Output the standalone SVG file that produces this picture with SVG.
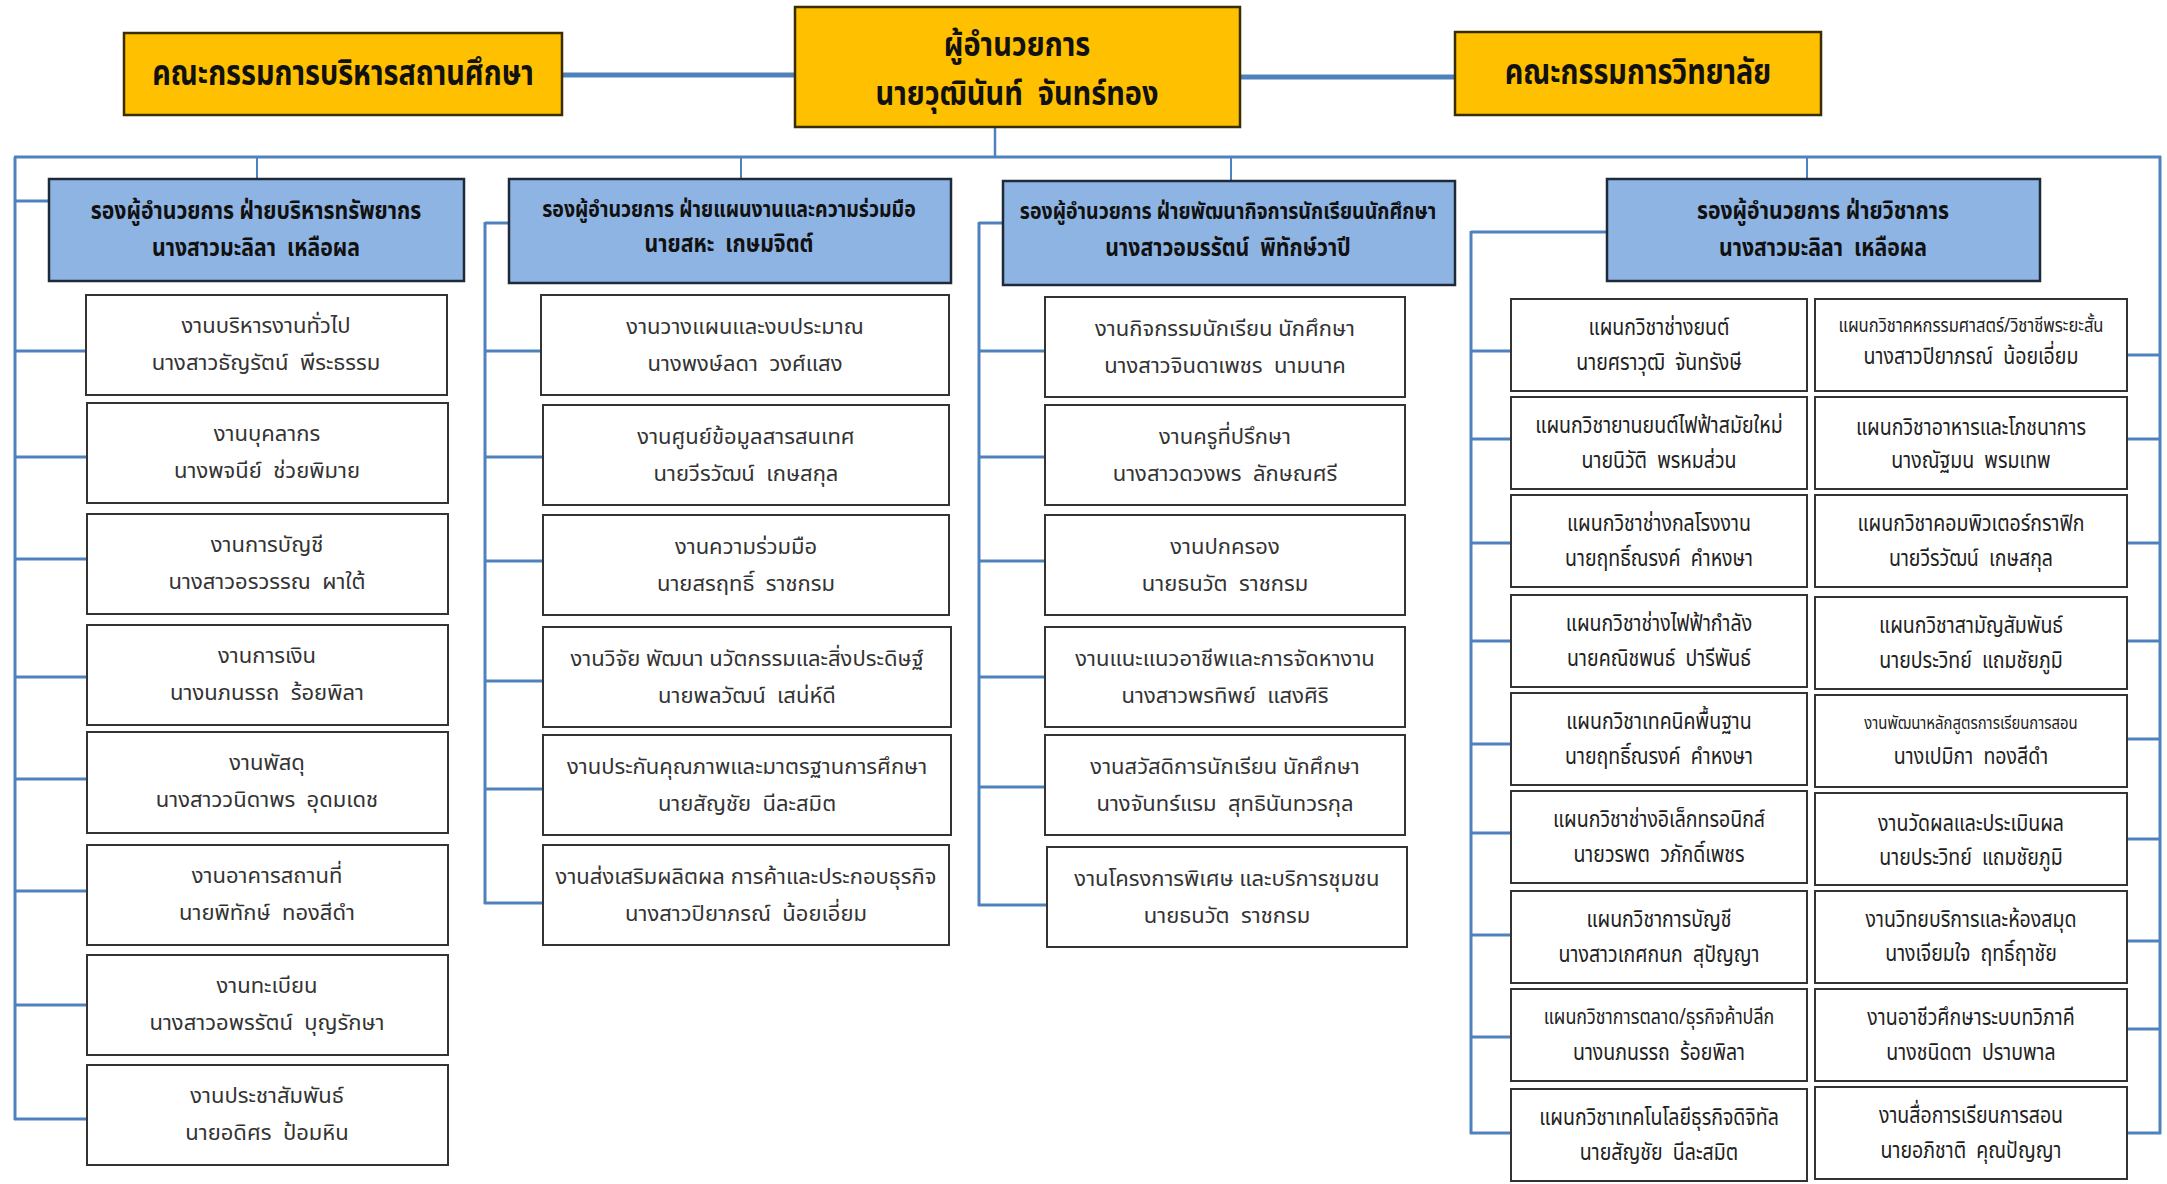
<svg xmlns="http://www.w3.org/2000/svg" width="2167" height="1184" viewBox="0 0 2167 1184">
<style>
text{font-family:"Noto Sans Thai","Noto Sans","DejaVu Sans",sans-serif;text-anchor:middle;white-space:pre}
.hdr rect{fill:#FFC000;stroke:#3a2d00;stroke-width:2.5}
.hdr text{font-size:36px;font-weight:bold;fill:#111}
.vp rect{fill:#8EB4E3;stroke:#1f2a38;stroke-width:2.5}
.vp text{font-size:25px;font-weight:bold;fill:#111}
.bx rect{fill:#fff;stroke:#333;stroke-width:2}
.bx text{font-size:22px;fill:#333}
.dp rect{fill:#fff;stroke:#333;stroke-width:2}
.dp text{font-size:23px;fill:#222}
.cond{transform-box:fill-box;transform-origin:center;transform:scaleX(0.8)}
.vp .cond,.dp .cond,#director .cond{transform:scaleX(0.85)}
#director text{font-size:34px}
#connectors line{stroke:#4F81BD;stroke-width:3;fill:none}
#connectors .thick{stroke-width:5}
</style>
<rect width="2167" height="1184" fill="#fff"/>
<g id="connectors">
<line class="thick" x1="562" y1="75" x2="795" y2="75"/>
<line class="thick" x1="1240" y1="77" x2="1455" y2="77"/>
<line x1="995" y1="127" x2="995" y2="157" style="stroke-width:2.5"/>
<line x1="14" y1="157" x2="2161" y2="157"/>
<line x1="257" y1="157" x2="257" y2="180" style="stroke-width:2"/>
<line x1="741" y1="157" x2="741" y2="180" style="stroke-width:2"/>
<line x1="1231" y1="157" x2="1231" y2="182" style="stroke-width:2"/>
<line x1="1807" y1="157" x2="1807" y2="180" style="stroke-width:2"/>
<line x1="15" y1="157" x2="15" y2="1120"/>
<line x1="15" y1="201" x2="49" y2="201"/>
<line x1="15" y1="351" x2="86" y2="351"/>
<line x1="15" y1="457" x2="86" y2="457"/>
<line x1="15" y1="559" x2="86" y2="559"/>
<line x1="15" y1="677" x2="86" y2="677"/>
<line x1="15" y1="779" x2="86" y2="779"/>
<line x1="15" y1="891" x2="86" y2="891"/>
<line x1="15" y1="1005" x2="86" y2="1005"/>
<line x1="14" y1="1119" x2="86" y2="1119"/>
<line x1="485" y1="223" x2="509" y2="223"/>
<line x1="485" y1="222" x2="485" y2="904"/>
<line x1="485" y1="351" x2="542" y2="351"/>
<line x1="485" y1="457" x2="542" y2="457"/>
<line x1="485" y1="561" x2="542" y2="561"/>
<line x1="485" y1="681" x2="542" y2="681"/>
<line x1="485" y1="789" x2="542" y2="789"/>
<line x1="484" y1="903" x2="542" y2="903"/>
<line x1="979" y1="223" x2="1003" y2="223"/>
<line x1="979" y1="222" x2="979" y2="906"/>
<line x1="979" y1="351" x2="1045" y2="351"/>
<line x1="979" y1="457" x2="1045" y2="457"/>
<line x1="979" y1="561" x2="1045" y2="561"/>
<line x1="979" y1="677" x2="1045" y2="677"/>
<line x1="979" y1="787" x2="1045" y2="787"/>
<line x1="978" y1="905" x2="1047" y2="905"/>
<line x1="1471" y1="232" x2="1607" y2="232"/>
<line x1="1471" y1="231" x2="1471" y2="1134"/>
<line x1="1471" y1="351" x2="1511" y2="351"/>
<line x1="1471" y1="439" x2="1511" y2="439"/>
<line x1="1471" y1="543" x2="1511" y2="543"/>
<line x1="1471" y1="641" x2="1511" y2="641"/>
<line x1="1471" y1="744" x2="1511" y2="744"/>
<line x1="1471" y1="833" x2="1511" y2="833"/>
<line x1="1471" y1="935" x2="1511" y2="935"/>
<line x1="1471" y1="1037" x2="1511" y2="1037"/>
<line x1="1470" y1="1133" x2="1511" y2="1133"/>
<line x1="2160" y1="156" x2="2160" y2="1134"/>
<line x1="2127" y1="355" x2="2160" y2="355"/>
<line x1="2127" y1="439" x2="2160" y2="439"/>
<line x1="2127" y1="543" x2="2160" y2="543"/>
<line x1="2127" y1="641" x2="2160" y2="641"/>
<line x1="2127" y1="739" x2="2160" y2="739"/>
<line x1="2127" y1="839" x2="2160" y2="839"/>
<line x1="2127" y1="941" x2="2160" y2="941"/>
<line x1="2127" y1="1029" x2="2160" y2="1029"/>
<line x1="2127" y1="1133" x2="2161" y2="1133"/>
</g>

<g id="board-admin" class="hdr"><rect x="124" y="33" width="438" height="82"/><text class="cond" x="343" y="85">คณะกรรมการบริหารสถานศึกษา</text></g>
<g id="director" class="hdr"><rect x="795" y="7" width="445" height="120"/><text class="cond" x="1017" y="56">ผู้อำนวยการ</text><text class="cond" x="1017" y="105">นายวุฒินันท์  จันทร์ทอง</text></g>
<g id="board-college" class="hdr"><rect x="1455" y="32" width="366" height="83"/><text class="cond" x="1638" y="84">คณะกรรมการวิทยาลัย</text></g>

<g id="vp-resources" class="vp"><rect x="49" y="179" width="415" height="102"/><text class="cond" x="256" y="219">รองผู้อำนวยการ ฝ่ายบริหารทรัพยากร</text><text class="cond" x="256" y="256">นางสาวมะลิลา  เหลือผล</text></g>
<g id="vp-planning" class="vp"><rect x="509" y="179" width="442" height="104"/><text class="cond" x="729" y="217" style="font-size:23px">รองผู้อำนวยการ ฝ่ายแผนงานและความร่วมมือ</text><text class="cond" x="729" y="252">นายสหะ  เกษมจิตต์</text></g>
<g id="vp-student" class="vp"><rect x="1003" y="181" width="452" height="104"/><text class="cond" x="1228" y="219" style="font-size:23px">รองผู้อำนวยการ ฝ่ายพัฒนากิจการนักเรียนนักศึกษา</text><text class="cond" x="1228" y="256">นางสาวอมรรัตน์  พิทักษ์วาปี</text></g>
<g id="vp-academic" class="vp"><rect x="1607" y="179" width="433" height="102"/><text class="cond" x="1823" y="219">รองผู้อำนวยการ ฝ่ายวิชาการ</text><text class="cond" x="1823" y="256">นางสาวมะลิลา  เหลือผล</text></g>

<g id="c1-1" class="bx"><rect x="86" y="295" width="361" height="100"/><text x="266" y="333">งานบริหารงานทั่วไป</text><text x="266" y="370">นางสาวธัญรัตน์  พีระธรรม</text></g>
<g id="c1-2" class="bx"><rect x="87" y="403" width="361" height="100"/><text x="267" y="441">งานบุคลากร</text><text x="267" y="478">นางพจนีย์  ช่วยพิมาย</text></g>
<g id="c1-3" class="bx"><rect x="87" y="514" width="361" height="100"/><text x="267" y="552">งานการบัญชี</text><text x="267" y="589">นางสาวอรวรรณ  ผาใต้</text></g>
<g id="c1-4" class="bx"><rect x="87" y="625" width="361" height="100"/><text x="267" y="663">งานการเงิน</text><text x="267" y="700">นางนภนรรถ  ร้อยพิลา</text></g>
<g id="c1-5" class="bx"><rect x="87" y="732" width="361" height="101"/><text x="267" y="770">งานพัสดุ</text><text x="267" y="807">นางสาววนิดาพร  อุดมเดช</text></g>
<g id="c1-6" class="bx"><rect x="87" y="845" width="361" height="100"/><text x="267" y="883">งานอาคารสถานที่</text><text x="267" y="920">นายพิทักษ์  ทองสีดำ</text></g>
<g id="c1-7" class="bx"><rect x="87" y="955" width="361" height="100"/><text x="267" y="993">งานทะเบียน</text><text x="267" y="1030">นางสาวอพรรัตน์  บุญรักษา</text></g>
<g id="c1-8" class="bx"><rect x="87" y="1065" width="361" height="100"/><text x="267" y="1103">งานประชาสัมพันธ์</text><text x="267" y="1140">นายอดิศร  ป้อมหิน</text></g>

<g id="c2-1" class="bx"><rect x="541" y="295" width="408" height="100"/><text x="745" y="334">งานวางแผนและงบประมาณ</text><text x="745" y="371">นางพงษ์ลดา  วงศ์แสง</text></g>
<g id="c2-2" class="bx"><rect x="543" y="405" width="406" height="100"/><text x="746" y="444">งานศูนย์ข้อมูลสารสนเทศ</text><text x="746" y="481">นายวีรวัฒน์  เกษสกุล</text></g>
<g id="c2-3" class="bx"><rect x="543" y="515" width="406" height="100"/><text x="746" y="554">งานความร่วมมือ</text><text x="746" y="591">นายสรฤทธิ์  ราชกรม</text></g>
<g id="c2-4" class="bx"><rect x="543" y="627" width="408" height="100"/><text x="747" y="666">งานวิจัย พัฒนา นวัตกรรมและสิ่งประดิษฐ์</text><text x="747" y="703">นายพลวัฒน์  เสน่ห์ดี</text></g>
<g id="c2-5" class="bx"><rect x="543" y="735" width="408" height="100"/><text x="747" y="774">งานประกันคุณภาพและมาตรฐานการศึกษา</text><text x="747" y="811">นายสัญชัย  นีละสมิต</text></g>
<g id="c2-6" class="bx"><rect x="543" y="845" width="406" height="100"/><text x="746" y="884">งานส่งเสริมผลิตผล การค้าและประกอบธุรกิจ</text><text x="746" y="921">นางสาวปิยาภรณ์  น้อยเอี่ยม</text></g>

<g id="c3-1" class="bx"><rect x="1045" y="297" width="360" height="100"/><text x="1225" y="336">งานกิจกรรมนักเรียน นักศึกษา</text><text x="1225" y="373">นางสาวจินดาเพชร  นามนาค</text></g>
<g id="c3-2" class="bx"><rect x="1045" y="405" width="360" height="100"/><text x="1225" y="444">งานครูที่ปรึกษา</text><text x="1225" y="481">นางสาวดวงพร  ลักษณศรี</text></g>
<g id="c3-3" class="bx"><rect x="1045" y="515" width="360" height="100"/><text x="1225" y="554">งานปกครอง</text><text x="1225" y="591">นายธนวัต  ราชกรม</text></g>
<g id="c3-4" class="bx"><rect x="1045" y="627" width="360" height="100"/><text x="1225" y="666">งานแนะแนวอาชีพและการจัดหางาน</text><text x="1225" y="703">นางสาวพรทิพย์  แสงศิริ</text></g>
<g id="c3-5" class="bx"><rect x="1045" y="735" width="360" height="100"/><text x="1225" y="774">งานสวัสดิการนักเรียน นักศึกษา</text><text x="1225" y="811">นางจันทร์แรม  สุทธินันทวรกุล</text></g>
<g id="c3-6" class="bx"><rect x="1047" y="847" width="360" height="100"/><text x="1227" y="886">งานโครงการพิเศษ และบริการชุมชน</text><text x="1227" y="923">นายธนวัต  ราชกรม</text></g>

<g id="c4l-1" class="dp"><rect x="1511" y="299" width="296" height="92"/><text class="cond" x="1659" y="335">แผนกวิชาช่างยนต์</text><text class="cond" x="1659" y="370">นายศราวุฒิ  จันทรังษี</text></g>
<g id="c4l-2" class="dp"><rect x="1511" y="397" width="296" height="92"/><text class="cond" x="1659" y="433">แผนกวิชายานยนต์ไฟฟ้าสมัยใหม่</text><text class="cond" x="1659" y="468">นายนิวัติ  พรหมส่วน</text></g>
<g id="c4l-3" class="dp"><rect x="1511" y="495" width="296" height="92"/><text class="cond" x="1659" y="531">แผนกวิชาช่างกลโรงงาน</text><text class="cond" x="1659" y="566">นายฤทธิ์ณรงค์  คำหงษา</text></g>
<g id="c4l-4" class="dp"><rect x="1511" y="595" width="296" height="92"/><text class="cond" x="1659" y="631">แผนกวิชาช่างไฟฟ้ากำลัง</text><text class="cond" x="1659" y="666">นายคณิชพนธ์  ปารีพันธ์</text></g>
<g id="c4l-5" class="dp"><rect x="1511" y="693" width="296" height="92"/><text class="cond" x="1659" y="729">แผนกวิชาเทคนิคพื้นฐาน</text><text class="cond" x="1659" y="764">นายฤทธิ์ณรงค์  คำหงษา</text></g>
<g id="c4l-6" class="dp"><rect x="1511" y="791" width="296" height="92"/><text class="cond" x="1659" y="827">แผนกวิชาช่างอิเล็กทรอนิกส์</text><text class="cond" x="1659" y="862">นายวรพต  วภักดิ์เพชร</text></g>
<g id="c4l-7" class="dp"><rect x="1511" y="891" width="296" height="92"/><text class="cond" x="1659" y="927">แผนกวิชาการบัญชี</text><text class="cond" x="1659" y="962">นางสาวเกศกนก  สุปัญญา</text></g>
<g id="c4l-8" class="dp"><rect x="1511" y="989" width="296" height="92"/><text class="cond" x="1659" y="1024" style="font-size:21px">แผนกวิชาการตลาด/ธุรกิจค้าปลีก</text><text class="cond" x="1659" y="1060">นางนภนรรถ  ร้อยพิลา</text></g>
<g id="c4l-9" class="dp"><rect x="1511" y="1089" width="296" height="92"/><text class="cond" x="1659" y="1125">แผนกวิชาเทคโนโลยีธุรกิจดิจิทัล</text><text class="cond" x="1659" y="1160">นายสัญชัย  นีละสมิต</text></g>

<g id="c4r-1" class="dp"><rect x="1815" y="299" width="312" height="92"/><text class="cond" x="1971" y="332" style="font-size:19.5px">แผนกวิชาคหกรรมศาสตร์/วิชาชีพระยะสั้น</text><text class="cond" x="1971" y="364">นางสาวปิยาภรณ์  น้อยเอี่ยม</text></g>
<g id="c4r-2" class="dp"><rect x="1815" y="397" width="312" height="92"/><text class="cond" x="1971" y="435">แผนกวิชาอาหารและโภชนาการ</text><text class="cond" x="1971" y="468">นางณัฐมน  พรมเทพ</text></g>
<g id="c4r-3" class="dp"><rect x="1815" y="495" width="312" height="92"/><text class="cond" x="1971" y="531">แผนกวิชาคอมพิวเตอร์กราฟิก</text><text class="cond" x="1971" y="566">นายวีรวัฒน์  เกษสกุล</text></g>
<g id="c4r-4" class="dp"><rect x="1815" y="597" width="312" height="92"/><text class="cond" x="1971" y="633">แผนกวิชาสามัญสัมพันธ์</text><text class="cond" x="1971" y="668">นายประวิทย์  แถมชัยภูมิ</text></g>
<g id="c4r-5" class="dp"><rect x="1815" y="695" width="312" height="92"/><text class="cond" x="1971" y="729" style="font-size:17.5px">งานพัฒนาหลักสูตรการเรียนการสอน</text><text class="cond" x="1971" y="764">นางเปมิกา  ทองสีดำ</text></g>
<g id="c4r-6" class="dp"><rect x="1815" y="793" width="312" height="92"/><text class="cond" x="1971" y="831">งานวัดผลและประเมินผล</text><text class="cond" x="1971" y="865">นายประวิทย์  แถมชัยภูมิ</text></g>
<g id="c4r-7" class="dp"><rect x="1815" y="891" width="312" height="92"/><text class="cond" x="1971" y="927">งานวิทยบริการและห้องสมุด</text><text class="cond" x="1971" y="961">นางเจียมใจ  ฤทธิ์ฤาชัย</text></g>
<g id="c4r-8" class="dp"><rect x="1815" y="989" width="312" height="92"/><text class="cond" x="1971" y="1025">งานอาชีวศึกษาระบบทวิภาคี</text><text class="cond" x="1971" y="1060">นางชนิดตา  ปราบพาล</text></g>
<g id="c4r-9" class="dp"><rect x="1815" y="1087" width="312" height="92"/><text class="cond" x="1971" y="1123">งานสื่อการเรียนการสอน</text><text class="cond" x="1971" y="1158">นายอภิชาติ  คุณปัญญา</text></g>
</svg>
